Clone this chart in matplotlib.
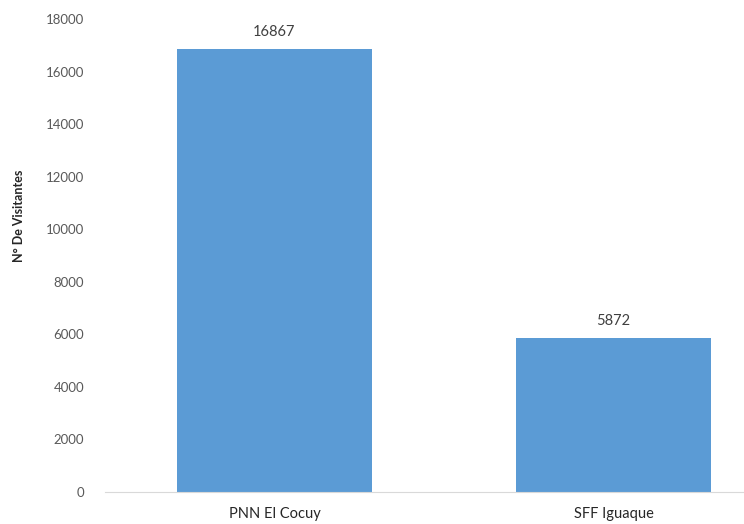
import matplotlib.pyplot as plt

categorias = ["PNN El Cocuy", "SFF Iguaque"]
visitantes = [16867, 5872]
y_ticks = [0, 2000, 4000, 6000, 8000, 10000, 12000, 14000, 16000, 18000]

W, H = 744, 524
plt.rcParams['font.family'] = ['Lato', 'DejaVu Sans']

fig = plt.figure(figsize=(W / 100, H / 100), dpi=100)
# el eje sigue mas alla del borde derecho, como en la imagen recortada
ax = fig.add_axes([105 / W, 32 / H, 678 / W, 473 / H])

x = range(len(categorias))
bars = ax.bar(x, visitantes, width=0.575, color="#5b9bd5")
ax.bar_label(bars, labels=[str(v) for v in visitantes], padding=7,
             fontsize=10.5, color="#404040")

ax.set_xlim(-0.5, 1.5)
ax.set_ylim(0, 18000)
ax.set_yticks(y_ticks)
ax.set_xticks(list(x))
ax.set_xticklabels(categorias)
ax.tick_params(axis="y", length=0, pad=15, labelsize=9.5, labelcolor="#595959")
ax.tick_params(axis="x", length=0, pad=11, labelsize=10.5, labelcolor="#262626")

for s in ["top", "right", "left"]:
    ax.spines[s].set_visible(False)
ax.spines["bottom"].set_color("#d9d9d9")

fig.text(19 / W, 1 - 216 / H, "N° De Visitantes", rotation=90, ha="center",
         va="center", fontsize=9, fontweight="bold", color="#262626")

fig.savefig("out.png", dpi=100)
